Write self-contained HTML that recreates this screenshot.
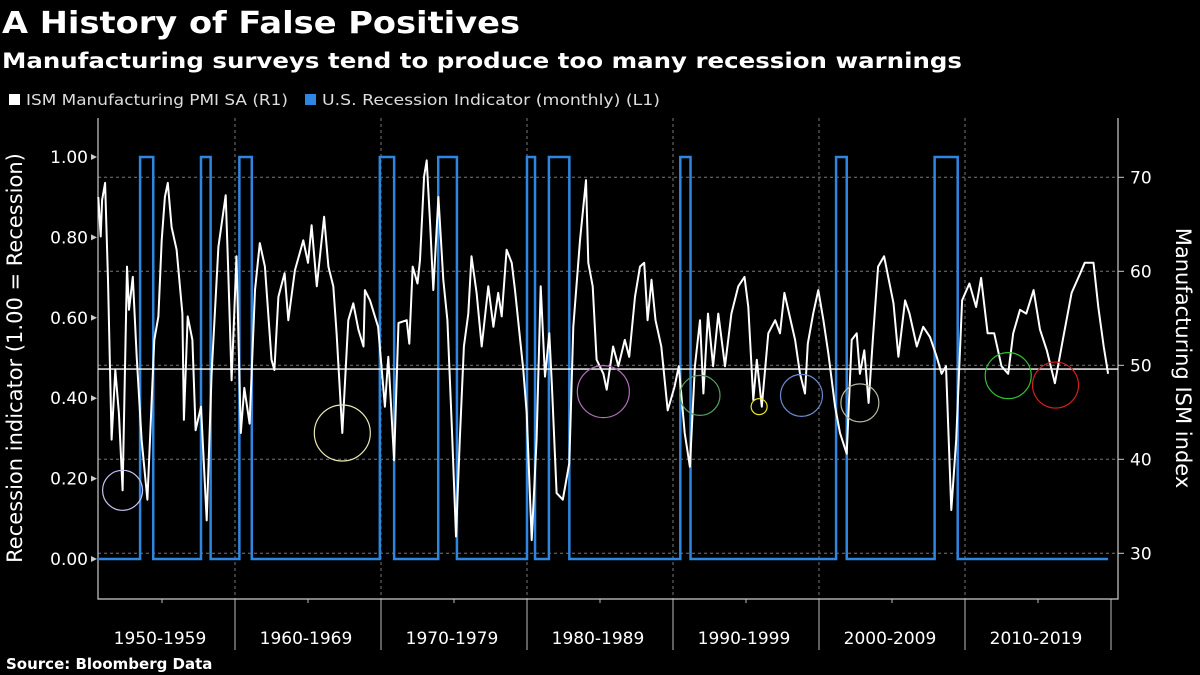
<!DOCTYPE html>
<html><head><meta charset="utf-8"><style>
html,body{margin:0;padding:0;background:#000;}
svg{display:block;font-family:"DejaVu Sans","Liberation Sans",sans-serif;}
</style></head><body>
<svg id="chart" width="1200" height="675" viewBox="0 0 1200 675" xmlns="http://www.w3.org/2000/svg">
<rect width="1200" height="675" fill="#000"/>
<text x="2" y="33" fill="#fff" font-size="30" font-weight="bold" textLength="518" lengthAdjust="spacingAndGlyphs">A History of False Positives</text>
<text x="2" y="68" fill="#fff" font-size="21" font-weight="bold" textLength="960" lengthAdjust="spacingAndGlyphs">Manufacturing surveys tend to produce too many recession warnings</text>
<g>
<rect x="9" y="94" width="11" height="11" fill="#fff"/>
<text x="26" y="105" fill="#ddd" font-size="15" textLength="262" lengthAdjust="spacingAndGlyphs">ISM Manufacturing PMI SA  (R1)</text>
<rect x="305" y="94" width="11" height="11" fill="#2f86e0"/>
<text x="322" y="105" fill="#ddd" font-size="15" textLength="338" lengthAdjust="spacingAndGlyphs">U.S. Recession Indicator (monthly)  (L1)</text>
</g>
<g id="grid"></g>
<g id="axes"></g>
<g id="marks"></g>
<text transform="translate(22,358) rotate(-90)" text-anchor="middle" fill="#fff" font-size="21">Recession indicator (1.00 = Recession)</text>
<text transform="translate(1176,358) rotate(90)" text-anchor="middle" fill="#fff" font-size="21">Manufacturing ISM index</text>
<text x="6" y="669" fill="#fff" font-size="15" font-weight="bold">Source: Bloomberg Data</text>
</svg>
<script>
const recStart=[1953.5,1957.67,1960.3,1969.92,1973.92,1980.0,1981.5,1990.5,2001.17,2007.92];
const recEnd=[1954.4,1958.33,1961.15,1970.9,1975.2,1980.55,1982.9,1991.2,2001.9,2009.5];
const ismYears=[1950.64,1950.8,1950.9,1951.1,1951.3,1951.55,1951.8,1952.05,1952.3,1952.6,1952.74,1953.0,1953.27,1953.6,1954.0,1954.47,1954.75,1954.98,1955.2,1955.4,1955.66,1956.0,1956.4,1956.5,1956.76,1957.08,1957.3,1957.67,1958.06,1958.4,1958.86,1959.36,1959.54,1959.77,1960.1,1960.4,1960.64,1961.0,1961.37,1961.7,1962.05,1962.5,1962.7,1962.97,1963.4,1963.65,1964.1,1964.68,1965.0,1965.25,1965.6,1966.1,1966.4,1966.73,1966.96,1967.35,1967.76,1968.1,1968.45,1968.8,1968.9,1969.25,1969.8,1970.27,1970.5,1970.9,1971.2,1971.76,1971.94,1972.17,1972.5,1972.67,1972.95,1973.13,1973.36,1973.58,1973.93,1974.27,1974.55,1974.84,1975.14,1975.4,1975.68,1975.98,1976.2,1976.55,1976.9,1977.35,1977.7,1978.03,1978.27,1978.6,1978.95,1979.18,1979.75,1979.98,1980.32,1980.66,1980.94,1981.23,1981.53,1981.7,1982.03,1982.45,1982.9,1983.17,1983.63,1984.04,1984.2,1984.5,1984.77,1985.23,1985.46,1985.9,1986.26,1986.7,1987.0,1987.4,1987.74,1988.03,1988.26,1988.53,1988.8,1989.2,1989.64,1990.1,1990.4,1990.8,1991.16,1991.5,1991.85,1992.08,1992.4,1992.75,1993.1,1993.56,1994.0,1994.47,1994.9,1995.16,1995.5,1995.74,1996.08,1996.53,1997.0,1997.33,1997.63,1997.95,1998.36,1998.7,1999.04,1999.23,1999.6,1999.95,2000.3,2000.64,2001.1,2001.44,2001.9,2002.24,2002.58,2002.8,2003.1,2003.4,2003.7,2004.05,2004.46,2005.1,2005.44,2005.9,2006.2,2006.7,2007.14,2007.6,2008.06,2008.4,2008.7,2009.06,2009.4,2009.8,2010.3,2010.76,2011.1,2011.55,2012.0,2012.5,2012.96,2013.3,2013.77,2014.2,2014.7,2015.14,2015.6,2016.16,2016.7,2017.3,2017.9,2018.2,2018.8,2019.13,2019.5,2019.8];
const ismValues=[67.9,63.7,67.6,69.4,59.1,42.1,49.5,44.9,36.7,60.5,55.9,59.4,50.9,42.1,35.7,52.7,55.2,63.3,67.9,69.4,64.7,62.3,55.5,44.2,55.2,52.7,43.1,45.6,33.5,49.1,62.6,68.1,59.8,48.4,61.6,42.8,47.6,43.8,58.0,63.0,60.5,50.6,49.5,57.3,59.8,54.8,60.1,63.3,60.9,64.9,58.4,65.8,60.5,58.4,53.4,42.8,54.8,56.6,53.8,52.0,58.0,56.9,54.1,45.6,50.9,39.9,54.5,54.8,52.3,60.5,58.7,61.2,70.1,71.8,65.1,58.0,67.9,59.1,54.8,43.8,31.8,42.1,52.0,55.5,61.6,57.7,52.0,58.4,54.1,57.7,55.2,62.3,60.9,58.0,49.5,44.9,31.4,42.1,58.4,48.8,53.4,48.1,36.4,35.7,39.6,54.1,63.3,69.7,60.9,58.4,50.6,49.1,47.4,52.0,49.9,52.7,50.9,57.3,60.5,60.9,54.8,59.1,54.8,52.0,45.2,47.7,49.9,42.8,39.2,49.9,54.8,47.0,55.5,49.9,55.5,49.9,55.5,58.4,59.4,56.2,46.3,50.6,45.6,53.4,54.8,53.4,57.7,55.5,52.7,49.1,47.0,52.3,55.5,58.0,54.8,51.3,45.6,42.8,40.6,52.7,53.4,49.1,51.6,46.0,53.0,60.5,61.6,56.6,50.9,56.9,55.5,52.0,54.1,53.0,50.9,49.1,49.9,34.6,42.1,56.9,58.7,56.2,59.3,53.4,53.4,49.9,49.1,53.4,55.9,55.5,58.0,53.8,51.6,48.1,52.7,57.7,59.8,60.9,60.9,56.2,52.0,49.1];
const leftTicks=[0,0.2,0.4,0.6,0.8,1.0];
const leftTickLabels=["0.00","0.20","0.40","0.60","0.80","1.00"];
const rightTicks=[30,40,50,60,70];
const decadeLabels=["1950-1959","1960-1969","1970-1979","1980-1989","1990-1999","2000-2009","2010-2019"];
const decadeStarts=[1950,1960,1970,1980,1990,2000,2010];
const thresholdValue=49.6;
const circleYears=[1952.3,1967.35,1985.23,1991.85,1995.9,1998.8,2002.8,2012.96,2016.2];
const circleValues=[36.7,42.8,47.2,46.8,45.6,46.8,46.0,48.9,47.9];
const circleRadii=[20,28,26,20,8,21,19,23,23];
const circleColors=["#c8c0f0","#e8e8b0","#b070b8","#50a060","#e8e820","#6a8ad0","#b8b8a0","#30c030","#d02020"];

const NS="http://www.w3.org/2000/svg";
const X0=98,X1=1118,Y0=118,Y1=599;
function xs(yr){return 235+(yr-1960)*14.6;}
function yl(v){return 559-v*402;}
function yr(v){return 365.3-(v-50)*9.4;}
function mk(tag,attrs,parent){const e=document.createElementNS(NS,tag);for(const k in attrs)e.setAttribute(k,attrs[k]);parent.appendChild(e);return e;}
const grid=document.getElementById('grid'),axes=document.getElementById('axes'),marks=document.getElementById('marks');

rightTicks.forEach((t,i)=>{
  const l=mk('line',{x1:X0,x2:X1,y1:yr(t),y2:yr(t),stroke:'#777','stroke-width':1,'stroke-dasharray':'3,3'},grid);
  
  
  const tk=mk('line',{x1:X1,x2:X1+6,y1:yr(t),y2:yr(t),stroke:'#ccc'},axes);
  
  
  const tx=mk('text',{x:X1+12,y:yr(t)+6,fill:'#fff','font-size':17},axes);
  tx.textContent=t;
  
  
});
decadeStarts.forEach((d,i)=>{
  if(i>0){
    const g=mk('line',{x1:xs(d),x2:xs(d),y1:Y0,y2:Y1,stroke:'#777','stroke-dasharray':'3,3'},grid);
    
    
  }
  const sx=xs(d+10);
  const s=mk('line',{x1:sx,x2:sx,y1:Y1,y2:650,stroke:'#bbb'},axes);
  
  
  const m=mk('line',{x1:xs(d+5),x2:xs(d+5),y1:Y1,y2:Y1+4,stroke:'#bbb'},axes);
  
  
  const tx=mk('text',{x:xs(d+5)-2,y:644,fill:'#fff','font-size':17,'text-anchor':'middle'},axes);
  tx.textContent=decadeLabels[i];
  
  
});
leftTicks.forEach((t,i)=>{
  const tk=mk('path',{d:`M${X0-1},${yl(t)} l-6,-3 v6 z`,fill:'#ccc'},axes);
  
  
  const tx=mk('text',{x:X0-10,y:yl(t)+6,fill:'#fff','font-size':17,'text-anchor':'end'},axes);
  tx.textContent=leftTickLabels[i];
  
  
});
const ax=mk('path',{d:`M${X0},${Y0} V${Y1} H${X1} V${Y0}`,fill:'none',stroke:'#ccc','stroke-width':1.2},axes);



// recession step line
let d=`M${X0},${yl(0)}`;
recStart.forEach((s,i)=>{d+=` H${xs(s)} V${yl(1)} H${xs(recEnd[i])} V${yl(0)}`;});
d+=` H${xs(2019.8)}`;
const rec=mk('path',{d:d,fill:'none',stroke:'#2f86e0','stroke-width':2.5},marks);



// threshold line
const th=mk('line',{x1:X0,x2:X1,y1:yr(thresholdValue),y2:yr(thresholdValue),stroke:'#fff','stroke-width':1.3},marks);



// ISM line
const pts=ismYears.map((y,i)=>`${xs(y).toFixed(1)},${yr(ismValues[i]).toFixed(1)}`).join(' ');
const ism=mk('polyline',{points:pts,fill:'none',stroke:'#fff','stroke-width':2,'stroke-linejoin':'round'},marks);



circleYears.forEach((c,i)=>{
  const ci=mk('circle',{cx:xs(c),cy:yr(circleValues[i]),r:circleRadii[i],fill:'none',stroke:circleColors[i],'stroke-width':1.2},marks);
  
  
});
</script>
</body></html>
